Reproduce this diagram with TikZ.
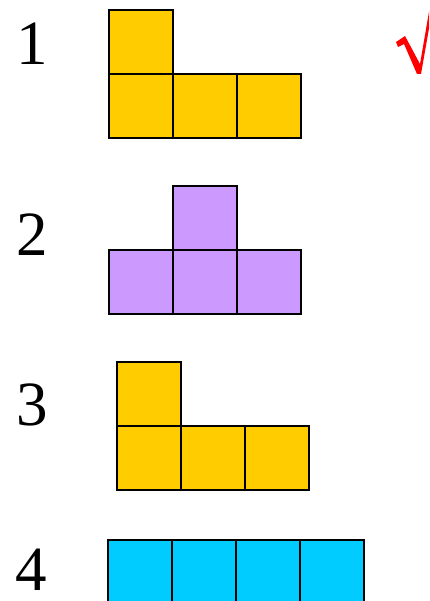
\documentclass[tikz,border=0pt]{standalone}
\usepackage{fontspec}
\setmainfont{Liberation Serif}
\definecolor{tyellow}{HTML}{FFCC00}
\definecolor{tpurple}{HTML}{CC99FF}
\definecolor{tcyan}{HTML}{00CCFF}
\definecolor{tred}{HTML}{FF0000}
\begin{document}
\begin{tikzpicture}[x=1pt,y=-1pt,
  cell/.style={draw=black,line width=2pt},
  num/.style={font=\fontsize{63}{63}\selectfont,inner sep=0pt,anchor=center}]
\useasboundingbox (0,0) rectangle (429,601);
\clip (0,0) rectangle (429,601);
% labels
\node[num] (n1) at (32,44) {1};
\node[num] (n2) at (32,235) {2};
\node[num] (n3) at (32,405) {3};
\node[num] (n4) at (31,570) {4};
% figure 1
\foreach \x/\y in {109/10,109/74,173/74,237/74}
  \draw[cell,fill=tyellow] (\x,\y) rectangle ++(64,64);
% figure 2
\foreach \x/\y in {173/186,109/250,173/250,237/250}
  \draw[cell,fill=tpurple] (\x,\y) rectangle ++(64,64);
% figure 3
\foreach \x/\y in {117/362,117/426,181/426,245/426}
  \draw[cell,fill=tyellow] (\x,\y) rectangle ++(64,64);
% figure 4
\foreach \x in {108,172,236,300}
  \draw[cell,fill=tcyan] (\x,540) rectangle ++(64,64);
% check mark
\fill[tred] (396,42) -- (405,36) -- (420,64) -- (431,0) -- (434,0) -- (421,74) -- (417,74) -- (404,44) -- (398,47) -- cycle;
\end{tikzpicture}
\end{document}
